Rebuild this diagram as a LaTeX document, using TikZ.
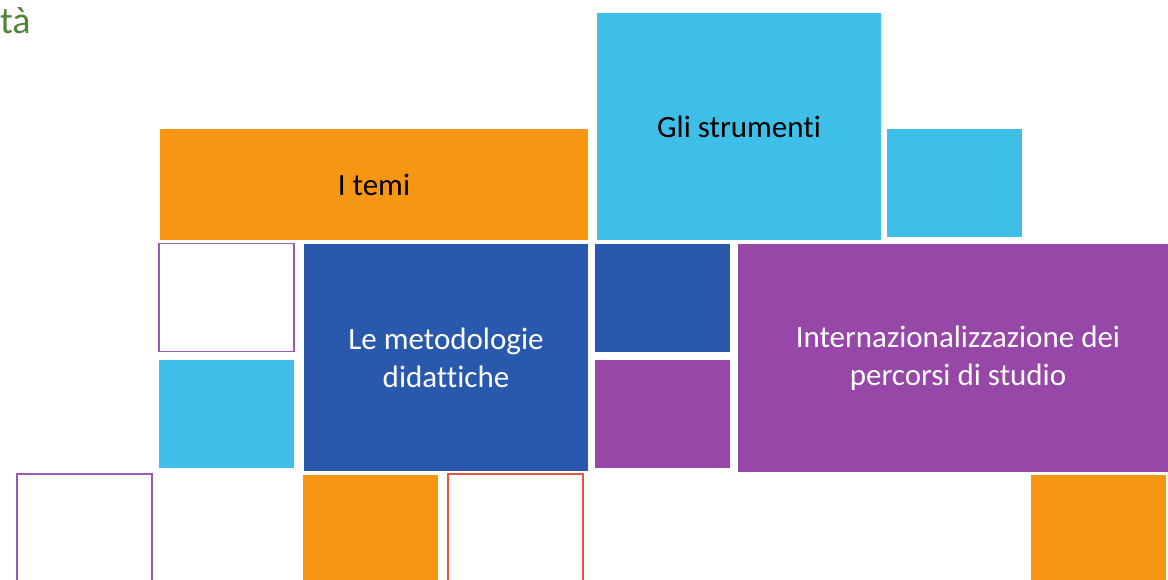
\documentclass[tikz,border=0pt]{standalone}
\usepackage{fontspec}
\setmainfont{Carlito}[Ligatures={NoCommon}]
\definecolor{tileorange}{RGB}{247,150,18}
\definecolor{tilecyan}{RGB}{61,191,232}
\definecolor{tileblue}{RGB}{41,89,173}
\definecolor{tilepurple}{RGB}{151,71,167}
\definecolor{titlegreen}{RGB}{84,130,53}
\definecolor{edgepurple}{RGB}{155,89,182}
\definecolor{edgered}{RGB}{232,85,62}
\tikzset{
  tile/.style={inner sep=0pt,outer sep=0pt,align=center,
    font=\fontsize{31}{38}\selectfont},
  bigtile/.style={tile,minimum width=284pt,minimum height=227pt},
  smalltile/.style={tile,minimum width=135pt,minimum height=108pt},
}
\begin{document}
\begin{tikzpicture}[x=1pt,y=-1pt]
\path[use as bounding box,clip] (0,0) rectangle (1168,579);

%% ---------------- title fragment ----------------
\node[anchor=base west,inner sep=0pt,text=titlegreen,
      font=\fontsize{38}{44}\selectfont] (title) at (0,33) {tà};

%% ---------------- top row ----------------
\node[tile,fill=tileorange,minimum width=428pt,minimum height=111pt]
     (temi) at (374,184.5) {I temi};
\node[bigtile,fill=tilecyan] (strumenti) at (739,126.5) {Gli strumenti};
\node[smalltile,fill=tilecyan] (cyanright) at (954.5,183) {};

%% ---------------- middle row ----------------
\node[smalltile,draw=edgepurple,line width=1.2pt] (emptyleft) at (226.5,297.5) {};
\node[smalltile,fill=tilecyan] (cyanleft) at (226.5,414) {};
\node[bigtile,fill=tileblue,text=white] (metodologie) at (446,357.5)
     {Le metodologie\\didattiche};
\node[smalltile,fill=tileblue] (bluesmall) at (662.5,298) {};
\node[smalltile,fill=tilepurple] (purplesmall) at (662.5,413.5) {};
\node[tile,fill=tilepurple,text=white,minimum width=440pt,minimum height=228pt]
     (internaz) at (958,358) {Internazionalizzazione dei\\percorsi di studio};

%% ---------------- bottom row ----------------
\node[smalltile,draw=edgepurple,line width=1.2pt] (emptybottom) at (84.5,528) {};
\node[smalltile,fill=tileorange] (orangebottom) at (370.5,529) {};
\node[smalltile,draw=edgered,line width=1.2pt] (redbottom) at (515.5,528) {};
\node[smalltile,fill=tileorange] (orangeright) at (1098.5,529) {};
\end{tikzpicture}
\end{document}
